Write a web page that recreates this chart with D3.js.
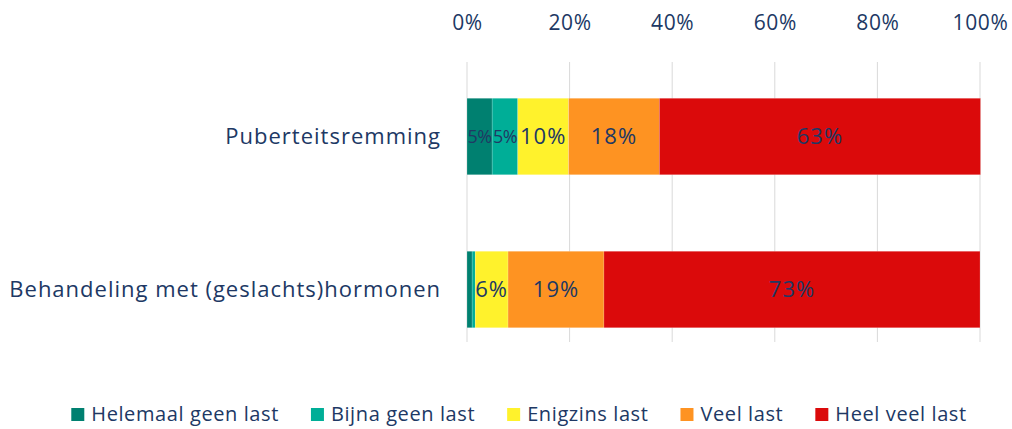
<!DOCTYPE html>
<html>
<head>
<meta charset="utf-8">
<script src="https://cdn.jsdelivr.net/npm/d3@7"></script>
<style>
  body { margin: 0; background: #fff; }
  text { font-family: "Open Sans", sans-serif; fill: #203864; }
</style>
</head>
<body>
<div id="chart"></div>
<script>
// categories and series (shares in %)
var categories = ["Puberteitsremming", "Behandeling met (geslachts)hormonen"];
var seriesNames = ["Helemaal geen last", "Bijna geen last", "Enigzins last", "Veel last", "Heel veel last"];
var seriesColors = ["#008070", "#00ae97", "#fff22c", "#fe9322", "#db0a0b"];
var helemaalGeen = [4.9, 1.0];
var bijnaGeen = [5.0, 0.6];
var enigzins = [9.9, 6.4];
var veel = [17.7, 18.7];
var heelVeel = [62.6, 73.3];
var tickValues = [0, 20, 40, 60, 80, 100];

var seriesValues = [helemaalGeen, bijnaGeen, enigzins, veel, heelVeel];

var svgWidth = 1012, svgHeight = 429;
var margin = { top: 60, right: 32, bottom: 63, left: 467 };
var width = svgWidth - margin.left - margin.right;
var height = svgHeight - margin.top - margin.bottom;

var svg = d3.select("#chart").append("svg")
  .attr("width", svgWidth)
  .attr("height", svgHeight);

var chartGroup = svg.append("g")
  .attr("transform", `translate(${margin.left}, ${margin.top})`);

// table for the stack
var table = categories.map(function(c, i) {
  var row = { category: c };
  seriesNames.forEach(function(s, j) { row[s] = seriesValues[j][i]; });
  return row;
});
var stacked = d3.stack().keys(seriesNames)(table);

var xScale = d3.scaleLinear().domain([0, 100]).range([0, width]);
var yScale = d3.scaleBand().domain(categories).range([0, height])
  .paddingInner(0.5).paddingOuter(0.25);

// gridlines
chartGroup.append("g")
  .selectAll("line")
  .data(tickValues)
  .enter()
  .append("line")
  .attr("x1", d => xScale(d))
  .attr("x2", d => xScale(d))
  .attr("y1", 2)
  .attr("y2", 282)
  .attr("stroke", "#d9d9d9")
  .attr("stroke-width", 1);

// top axis
var xAxis = d3.axisTop(xScale).tickValues(tickValues).tickFormat(d => d + "%").tickSize(0).tickPadding(30);
var axisG = chartGroup.append("g").call(xAxis);
axisG.select(".domain").remove();
axisG.selectAll("text")
  .style("font-family", "'Open Sans', sans-serif")
  .style("font-size", "21px")
  .style("letter-spacing", "0.6px")
  .attr("fill", "#203864");

// category labels
chartGroup.append("g")
  .selectAll("text")
  .data(categories)
  .enter()
  .append("text")
  .attr("x", -26)
  .attr("y", d => yScale(d) + yScale.bandwidth() / 2)
  .attr("dy", "0.35em")
  .attr("text-anchor", "end")
  .style("font-size", "22px")
  .style("letter-spacing", "1px")
  .text(d => d);

// bars
var layers = chartGroup.append("g")
  .selectAll("g")
  .data(stacked)
  .enter()
  .append("g")
  .attr("fill", (d, i) => seriesColors[i]);

layers.selectAll("rect")
  .data(d => d)
  .enter()
  .append("rect")
  .attr("x", d => xScale(d[0]))
  .attr("y", d => yScale(d.data.category))
  .attr("width", d => xScale(d[1]) - xScale(d[0]))
  .attr("height", yScale.bandwidth())
  .attr("stroke", "#ffffff")
  .attr("stroke-opacity", 0.35)
  .attr("stroke-width", 0.5);

// value labels
layers.selectAll("text")
  .data(d => d.filter(p => (p[1] - p[0]) >= 3))
  .enter()
  .append("text")
  .attr("x", d => xScale((d[0] + d[1]) / 2))
  .attr("y", d => yScale(d.data.category) + yScale.bandwidth() / 2)
  .attr("dy", "0.35em")
  .attr("text-anchor", "middle")
  .style("font-size", d => (xScale(d[1]) - xScale(d[0])) < 30 ? "18px" : "22px")
  .style("letter-spacing", d => (xScale(d[1]) - xScale(d[0])) < 30 ? "-0.5px" : "1px")
  .text(d => d3.format(".0f")(d[1] - d[0]) + "%");

// legend
var legend = svg.append("g").attr("transform", "translate(0, 414)");
var items = legend.selectAll("g")
  .data(seriesNames)
  .enter()
  .append("g");
items.append("rect")
  .attr("x", 0).attr("y", -6)
  .attr("width", 13).attr("height", 13)
  .attr("fill", (d, i) => seriesColors[i]);
items.append("text")
  .attr("x", 20)
  .attr("y", 0)
  .attr("dy", "0.35em")
  .style("font-size", "20px")
  .style("letter-spacing", "0.6px")
  .text(d => d);

var pos = 0, offsets = [];
items.each(function() {
  offsets.push(pos);
  pos += this.getBBox().width + 32;
});
var totalW = pos - 32;
var startX = 519 - totalW / 2;
items.attr("transform", (d, i) => `translate(${startX + offsets[i]}, 0)`);
</script>
</body>
</html>
